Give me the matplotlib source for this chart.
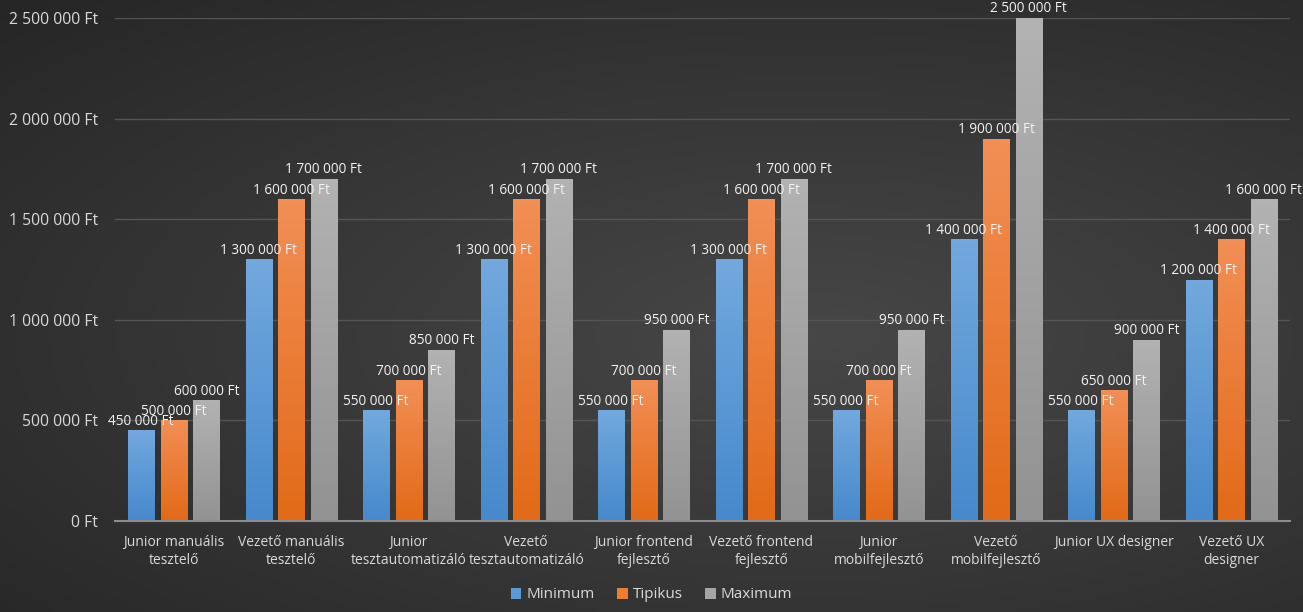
import numpy as np
import matplotlib.pyplot as plt
from matplotlib.colors import LinearSegmentedColormap

plt.rcParams['font.family'] = ['Open Sans', 'DejaVu Sans']

categories = ['Junior manuális\ntesztelő', 'Vezető manuális\ntesztelő',
              'Junior\ntesztautomatizáló', 'Vezető\ntesztautomatizáló',
              'Junior frontend\nfejlesztő', 'Vezető frontend\nfejlesztő',
              'Junior\nmobilfejlesztő', 'Vezető\nmobilfejlesztő',
              'Junior UX designer', 'Vezető UX\ndesigner']
minimum = [450000, 1300000, 550000, 1300000, 550000, 1300000, 550000, 1400000, 550000, 1200000]
tipikus = [500000, 1600000, 700000, 1600000, 700000, 1600000, 700000, 1900000, 650000, 1400000]
maximum = [600000, 1700000, 850000, 1700000, 950000, 1700000, 950000, 2500000, 900000, 1600000]
series = ['Minimum', 'Tipikus', 'Maximum']
yticks = [0, 500000, 1000000, 1500000, 2000000, 2500000]

# top / bottom colours of the bar gradients
grads = [('#72a8de', '#4689cc'), ('#f28f55', '#e26a18'), ('#b2b2b2', '#939393')]
flat = ['#5b9bd5', '#ed7d31', '#a5a5a5']


def fmt(v):
    return f'{v:,.0f}'.replace(',', ' ') + ' Ft'


fig = plt.figure(figsize=(13.03, 6.12), dpi=100)

# background gradient
bg = fig.add_axes([0, 0, 1, 1], zorder=-10)
yy, xx = np.mgrid[0:1:200j, 0:1:400j]
d = np.sqrt(((xx - 0.62) / 0.9) ** 2 + ((yy - 0.45) / 0.8) ** 2)
bg.imshow(1 - d, cmap=LinearSegmentedColormap.from_list('bg', ['#262626', '#474747']),
          aspect='auto', extent=[0, 1, 0, 1], origin='lower')
bg.axis('off')

ax = fig.add_axes([115 / 1303, 91 / 612, 1175 / 1303, 503 / 612])
ax.patch.set_alpha(0)

x = np.arange(len(categories))
w = 0.222
step = 0.277
for i, (name, vals) in enumerate(zip(series, [minimum, tipikus, maximum])):
    bars = ax.bar(x + (i - 1) * step, vals, w, color=flat[i], label=name, zorder=2)
    cmap = LinearSegmentedColormap.from_list(name, [grads[i][1], grads[i][0]])
    for b, v in zip(bars, vals):
        bx = b.get_x()
        im = ax.imshow(np.linspace(0, 1, 64).reshape(-1, 1), cmap=cmap, aspect='auto',
                       extent=[bx, bx + b.get_width(), 0, v], origin='lower', zorder=2)
        im.set_clip_path(b)
        ax.annotate(fmt(v), (bx + b.get_width() / 2, v), xytext=(0, 4),
                    textcoords='offset points', ha='center', va='baseline',
                    color='#f2f2f2', fontsize=9.8, zorder=4)

ax.set_xlim(-0.5, len(categories) - 0.5)
ax.set_ylim(0, 2500000)
ax.set_yticks(yticks)
ax.set_yticklabels([fmt(v) for v in yticks])
ax.set_xticks(x)
ax.set_xticklabels(categories, linespacing=1.25)
ax.tick_params(colors='#d9d9d9', labelsize=10, length=0)
ax.tick_params(axis='y', labelsize=11.3, pad=12)
ax.tick_params(axis='x', pad=10)
ax.grid(axis='y', color='#555555', linewidth=1, zorder=0)
for s in ['top', 'right', 'left']:
    ax.spines[s].set_visible(False)
ax.spines['bottom'].set_color('#8c8c8c')
ax.spines['bottom'].set_linewidth(1.5)
ax.spines['bottom'].set_zorder(3)

leg = fig.legend(loc='center', bbox_to_anchor=(0.5, 17 / 612), ncol=3, frameon=False,
                 fontsize=11, labelcolor='#d9d9d9', handlelength=0.7, handleheight=0.7,
                 handletextpad=0.3, columnspacing=1.5)

fig.savefig('out.png', dpi=100)
